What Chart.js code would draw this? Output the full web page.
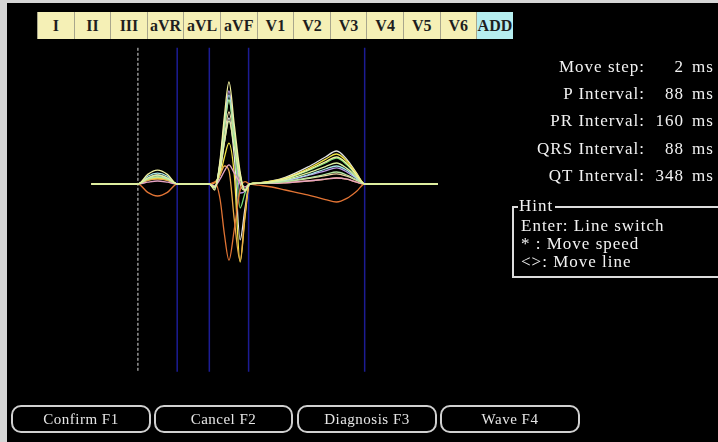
<!DOCTYPE html>
<html>
<head>
<meta charset="utf-8">
<script src="https://cdn.jsdelivr.net/npm/chart.js@4/dist/chart.umd.min.js"></script>
<style>
  html, body { margin: 0; padding: 0; width: 718px; height: 442px; overflow: hidden; background: #d6d6d6; }
  #screen { position: absolute; left: 7px; top: 3px; right: 0; bottom: 0; background: #000; }
  #chartBox { position: absolute; left: 0; top: 0; width: 718px; height: 442px; }
  .tabs { position: absolute; left: 37px; top: 12px; height: 27px; display: flex; }
  .tab { width: 36.6px; height: 27px; box-sizing: border-box; border-left: 1px solid #a8a68c; background: #f5f0b6;
         font: bold 16px "Liberation Serif", serif; color: #1e1e1e; text-align: center; line-height: 27px; }
  .tab.add { background: #b6eef0; }
  .txt { position: absolute; color: #f2f2f2; font: 17px "Liberation Serif", serif; letter-spacing: 1px; white-space: pre; line-height: 18px; }
  .lbl { text-align: right; }
  .hint { position: absolute; left: 512px; top: 206px; width: 220px; height: 72px; border: 2px solid #dcdcdc; box-sizing: border-box; }
  .hintTitle { position: absolute; left: 518px; top: 197px; background: #000; padding: 0 2px 0 1px; }
  .btn { position: absolute; top: 405px; height: 28px; box-sizing: border-box; border: 2px solid #d0d0d0; border-radius: 10px;
         color: #e6e6e6; font: 15px "Liberation Serif", serif; letter-spacing: 0.5px; text-align: center; line-height: 24px; }
</style>
</head>
<body>
<div id="screen"></div>
<div id="chartBox"><canvas id="ecgChart"></canvas></div>
<div class="tabs" id="tabs"></div>
<div id="info"></div>
<div class="hint"></div>
<div class="txt hintTitle">Hint</div>
<div class="txt" style="left:521px;top:217px">Enter: Line switch</div>
<div class="txt" style="left:521px;top:235px">* : Move speed</div>
<div class="txt" style="left:521px;top:253px">&lt;&gt;: Move line</div>
<div id="buttons"></div>
<script>
// lead names (tab bar) and trace colours
const leads = ["I", "II", "III", "aVR", "aVL", "aVF", "V1", "V2", "V3", "V4", "V5", "V6"];
const leadColors = ["#dcf0a0", "#f2f2a2", "#b4e4a0", "#e27434", "#e6a4c4", "#a6e6e6",
                    "#eaa848", "#f2e444", "#e4e4e4", "#78e078", "#bc9cea", "#eed4a4"];

// sample times in ms, P onset = 0
const times = [-104, 0, 22, 44, 66, 88, 160, 172, 184, 194, 204, 216, 229, 240, 250,
               270, 300, 330, 380, 420, 445, 468, 490, 508, 672];

// amplitudes (mV)
const leadI   = [0, 0, 0.10, 0.15, 0.10, 0, 0, -0.05, 0.25, 0.71, 1.05, 0.61, 0.10, -0.10, 0, 0.01, 0.03, 0.07, 0.18, 0.29, 0.35, 0.26, 0.12, 0, 0];
const leadII  = [0, 0, 0.16, 0.23, 0.16, 0, 0, -0.10, 0.40, 1.15, 1.70, 0.98, 0.20, -0.12, 0, 0.01, 0.04, 0.09, 0.23, 0.37, 0.45, 0.34, 0.15, 0, 0];
const leadIII = [0, 0, 0.08, 0.12, 0.08, 0, 0, -0.06, 0.33, 0.95, 1.40, 0.80, 0.15, -0.10, 0, 0.01, 0.02, 0.04, 0.10, 0.16, 0.20, 0.15, 0.07, 0, 0];
const leadAVR = [0, 0, -0.14, -0.20, -0.14, 0, 0, 0.03, -0.25, -0.85, -1.27, -0.75, -0.10, 0.04, 0, -0.02, -0.05, -0.10, -0.18, -0.26, -0.30, -0.24, -0.12, 0, 0];
const leadAVL = [0, 0, 0.03, 0.05, 0.03, 0, 0, -0.03, 0.08, 0.22, 0.32, 0.18, 0.02, -0.05, 0, 0.01, 0.01, 0.02, 0.05, 0.08, 0.10, 0.08, 0.03, 0, 0];
const leadAVF = [0, 0, 0.13, 0.18, 0.13, 0, 0, -0.07, 0.35, 1.00, 1.48, 0.85, 0.15, -0.10, 0, 0.01, 0.03, 0.06, 0.15, 0.25, 0.30, 0.23, 0.10, 0, 0];
const leadV1  = [0, 0, 0.06, 0.08, 0.06, 0, 0, 0.03, 0.15, 0.30, 0.22, -0.60, -1.28, -0.50, 0, 0.01, 0.01, 0.02, 0.05, 0.08, 0.10, 0.08, 0.03, 0, 0];
const leadV2  = [0, 0, 0.07, 0.10, 0.07, 0, 0, 0.02, 0.15, 0.45, 0.68, 0.15, -1.30, -0.55, 0, 0.02, 0.05, 0.10, 0.25, 0.41, 0.50, 0.38, 0.17, 0, 0];
const leadV3  = [0, 0, 0.07, 0.10, 0.07, 0, 0, -0.05, 0.20, 0.70, 1.10, 0.45, -0.93, -0.40, 0, 0.02, 0.05, 0.11, 0.28, 0.45, 0.55, 0.41, 0.18, 0, 0];
const leadV4  = [0, 0, 0.08, 0.12, 0.08, 0, 0, -0.05, 0.30, 0.95, 1.40, 0.70, -0.40, -0.15, 0, 0.02, 0.04, 0.08, 0.22, 0.35, 0.43, 0.32, 0.14, 0, 0];
const leadV5  = [0, 0, 0.10, 0.15, 0.10, 0, 0, -0.06, 0.35, 1.05, 1.55, 0.85, -0.15, -0.12, 0, 0.01, 0.02, 0.05, 0.14, 0.22, 0.27, 0.20, 0.09, 0, 0];
const leadV6  = [0, 0, 0.08, 0.12, 0.08, 0, 0, -0.05, 0.28, 0.80, 1.20, 0.70, 0.00, -0.10, 0, 0.01, 0.02, 0.04, 0.09, 0.14, 0.17, 0.13, 0.06, 0, 0];
const leadSeries = [leadI, leadII, leadIII, leadAVR, leadAVL, leadAVF, leadV1, leadV2, leadV3, leadV4, leadV5, leadV6];

// measurement cursors (ms): P on, P off, QRS on, QRS off, T off
const markerTimes = [0, 88, 160, 248, 508];
const markerTop = 2.27;
const markerBottom = -3.13;

const infoLabels = ["Move step:", "P Interval:", "PR Interval:", "QRS Interval:", "QT Interval:"];
const infoValues = ["2", "88", "160", "88", "348"];
const buttonLabels = ["Confirm F1", "Cancel F2", "Diagnosis F3", "Wave F4"];

// tab bar
const tabs = document.getElementById("tabs");
leads.concat(["ADD"]).forEach((name) => {
  const div = document.createElement("div");
  div.className = "tab" + (name === "ADD" ? " add" : "");
  div.textContent = name;
  tabs.appendChild(div);
});

// interval readout
const info = document.getElementById("info");
infoLabels.forEach((label, i) => {
  const top = 58 + i * 27.2;
  info.insertAdjacentHTML("beforeend",
    `<div class="txt lbl" style="right:73px;top:${top}px">${label}</div>` +
    `<div class="txt lbl" style="right:34px;top:${top}px">${infoValues[i]}</div>` +
    `<div class="txt" style="left:692px;top:${top}px">ms</div>`);
});

// soft keys
const btnLeft = [11, 154, 297, 440];
const btnWidth = [140, 139, 140, 140];
const buttons = document.getElementById("buttons");
buttonLabels.forEach((label, i) => {
  buttons.insertAdjacentHTML("beforeend",
    `<div class="btn" style="left:${btnLeft[i]}px;width:${btnWidth[i]}px">${label}</div>`);
});

const datasets = leadSeries.map((vals, i) => ({
  label: leads[i],
  data: times.map((t, j) => ({ x: t, y: vals[j] })),
  borderColor: leadColors[i],
  borderWidth: 1.3,
  cubicInterpolationMode: "monotone",
  tension: 0.4,
  pointRadius: 0,
}));

markerTimes.forEach((t, i) => {
  datasets.push({
    label: "cursor " + i,
    data: [{ x: t, y: markerTop }, { x: t, y: markerBottom }],
    borderColor: i === 0 ? "#dedede" : "#1c1c94",
    borderWidth: i === 0 ? 1 : 1.5,
    borderDash: i === 0 ? [3, 2] : [],
    pointRadius: 0,
  });
});

new Chart(document.getElementById("ecgChart"), {
  type: "line",
  data: { datasets },
  options: {
    responsive: true,
    maintainAspectRatio: false,
    animation: false,
    layout: { padding: { left: 4, right: 223, top: 40, bottom: 66 } },
    scales: {
      x: { type: "linear", min: -300, max: 800, display: false },
      y: { min: -3.2, max: 2.4, display: false },
    },
    plugins: { legend: { display: false }, tooltip: { enabled: false } },
  },
});
</script>
</body>
</html>
